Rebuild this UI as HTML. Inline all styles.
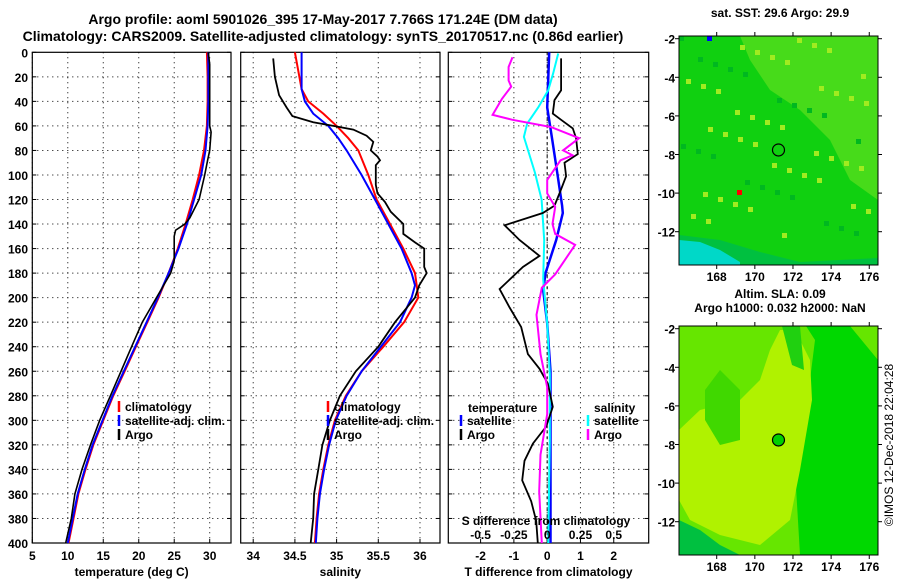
<!DOCTYPE html>
<html><head><meta charset="utf-8">
<style>
body{margin:0;background:#fff;}
svg{display:block;font-family:"Liberation Sans",sans-serif;font-weight:bold;}
</style></head>
<body>
<svg id="chart" width="900" height="580" viewBox="0 0 900 580" xmlns="http://www.w3.org/2000/svg">
<text x="323" y="24" font-size="14" text-anchor="middle">Argo profile: aoml 5901026_395 17-May-2017 7.766S 171.24E (DM data)</text>
<text x="323" y="41" font-size="14" text-anchor="middle">Climatology: CARS2009. Satellite-adjusted climatology: synTS_20170517.nc (0.86d earlier)</text>
<g id="panels"></g>
<g id="maps"></g>
<text transform="translate(893,445) rotate(-90)" font-size="12" font-weight="normal" text-anchor="middle">©IMOS 12-Dec-2018 22:04:28</text>
</svg>
<script>
// ---- data ----
const tDepth = [0,10,20,40,60,65,80,88,100,120,135,140,145,150,160,170,180,190,200,220,240,260,280,300,320,340,360,380,400];
const tArgo  = [29.8,30,30,30,30,30.2,30,29.7,29.3,28.5,27.2,26.5,25.2,25,25,25,24.5,23.5,22.5,20.5,19,17.5,16,14.5,13.2,12,11,10.5,9.7];
const cDepth = [0,20,40,60,80,100,120,140,160,180,200,220,240,260,280,300,320,340,360,380,400];
const tClim  = [29.6,29.7,29.7,29.6,29.2,28.5,27.6,26.6,25.5,24.2,22.8,21.2,19.6,18,16.4,15,13.6,12.5,11.5,10.8,10.1];
const tSat   = [29.8,29.8,29.8,29.7,29.4,28.8,27.8,26.8,25.6,24.2,22.7,21.1,19.5,17.9,16.3,14.9,13.5,12.4,11.4,10.7,10.0];
const sDepth = [5,20,35,45,52,57,60,63,68,73,80,85,88,92,100,108,115,122,130,140,148,155,160,175,180,190,200,210,220,240,260,280,300,320,340,360,380,400];
const sArgo  = [34.24,34.26,34.31,34.4,34.47,34.72,34.96,35.2,35.36,35.44,35.41,35.49,35.52,35.47,35.47,35.47,35.49,35.58,35.65,35.8,35.8,35.94,36.05,36.05,36.08,35.99,35.94,35.82,35.7,35.5,35.23,35.04,34.92,34.83,34.78,34.73,34.72,34.69];
const scDepth = [0,30,40,50,60,70,80,100,120,140,160,180,190,200,220,240,260,280,300,320,340,360,380,400];
const sClim  = [34.5,34.58,34.66,34.84,35.0,35.14,35.26,35.38,35.48,35.64,35.8,35.94,35.96,35.98,35.81,35.56,35.3,35.11,34.98,34.9,34.84,34.79,34.76,34.74];
const sSat   = [34.58,34.58,34.62,34.72,34.9,35.02,35.12,35.3,35.46,35.62,35.78,35.9,35.94,35.9,35.76,35.53,35.3,35.12,34.99,34.91,34.85,34.8,34.77,34.75];
const dtSatDepth = [0,45,71,98,125,131,153,180,194,221,260,400];
const dtSat  = [0.06,0.0,0.15,0.3,0.45,0.47,0.27,-0.05,-0.12,0,0.1,0.1];
const dtArgoDepth = [5,31,39,50,55,62,70,83,90,101,115,125,131,141,153,166,175,193,208,224,246,258,270,289,305,319,333,349,366,382,400];
const dtArgo = [0.42,0.42,0.22,0.17,0.42,0.77,0.87,0.92,0.52,0.57,0.37,0.22,-0.13,-1.28,-0.83,-0.23,-0.73,-1.43,-1.13,-0.78,-0.58,-0.23,0.02,0.17,-0.03,-0.43,-0.68,-0.75,-0.48,-0.33,-0.28];
const dsSatDepth = [1,17,31,45,58,69,98,120,153,185,221,262,316,400];
const dsSat  = [0.083,0.045,0.008,-0.067,-0.15,-0.175,-0.092,-0.042,-0.022,-0.03,0,0.02,0.02,0.008];
const dsArgoDepth = [4,12,23,28,38,51,55,61,70,80,84,88,104,115,126,140,148,157,181,192,214,246,273,295,328,358,400];
const dsArgo = [-0.26,-0.29,-0.29,-0.27,-0.34,-0.41,-0.26,0.03,0.24,0.12,0.19,0.1,0,0,0.06,0.04,0.06,0.21,0.06,-0.04,-0.08,-0.05,0,0,-0.05,-0.06,-0.04];
const depthTicks = [0,20,40,60,80,100,120,140,160,180,200,220,240,260,280,300,320,340,360,380,400];
const tTicks = [5,10,15,20,25,30];
const sTicks = [34,34.5,35,35.5,36];
const dTTicks = [-2,-1,0,1,2];
const dSTicks = [-0.5,-0.25,0,0.25,0.5];
const latTicks = [-2,-4,-6,-8,-10,-12];
const lonTicks = [168,170,172,174,176];

const NS='http://www.w3.org/2000/svg';
function mk(tag,attrs,parent,text){const e=document.createElementNS(NS,tag);for(const k in attrs)e.setAttribute(k,attrs[k]);if(text!==undefined)e.textContent=text;parent.appendChild(e);return e;}
const Y0=52.3,Y1=543;
const yD=d=>Y0+(d-0)*(Y1-Y0)/400;
const panels=document.getElementById('panels');

function panel(name,x0,x1,vmin,vmax,ticks,fmt,xtitle){
  const g=mk('g',{},panels);
  
  
  const xs=v=>x0+(v-vmin)*(x1-x0)/(vmax-vmin);
  depthTicks.forEach(d=>{
    if(d>0&&d<400){const l=mk('line',{x1:x0,x2:x1,y1:yD(d),y2:yD(d),stroke:'#000','stroke-dasharray':'1,4','stroke-width':1},g);
    }
    mk('line',{x1:x0,x2:x0+4,y1:yD(d),y2:yD(d),stroke:'#000'},g);
    mk('line',{x1:x1-4,x2:x1,y1:yD(d),y2:yD(d),stroke:'#000'},g);
  });
  ticks.forEach(v=>{
    const l=mk('line',{x1:xs(v),x2:xs(v),y1:Y0,y2:Y1,stroke:'#000','stroke-dasharray':'1,4'},g);
    
    mk('line',{x1:xs(v),x2:xs(v),y1:Y1-4,y2:Y1,stroke:'#000'},g);
    const t=mk('text',{x:xs(v),y:560,'font-size':12,'text-anchor':'middle'},g,fmt(v));
    
  });
  const r=mk('rect',{x:x0,y:Y0,width:x1-x0,height:Y1-Y0,fill:'none',stroke:'#000','stroke-width':1.2},g);
  
  const tt=mk('text',{x:(x0+x1)/2,y:576,'font-size':12,'text-anchor':'middle'},g,xtitle);
  
  return {g,xs};
}
function line(p,depths,vals,color,w,name){
  const pts=depths.map((d,i)=>p.xs(vals[i]).toFixed(1)+','+yD(d).toFixed(1)).join(' ');
  const l=mk('polyline',{points:pts,fill:'none',stroke:color,'stroke-width':w},p.g);
  
  
}
function legend(g,x,y,color,label){
  mk('line',{x1:x,x2:x,y1:y-10,y2:y+1,stroke:color,'stroke-width':2.5},g);
  const t=mk('text',{x:x+6,y:y,'font-size':12},g,label);
  
  
}
depthTicks.forEach(d=>{
  const t=mk('text',{x:28,y:yD(d)+5,'font-size':12,'text-anchor':'end'},panels,String(d));
  
  
});
const p1=panel('temperature-panel',32.3,231,5,33,tTicks,v=>String(v),'temperature (deg C)');
line(p1,cDepth,tClim,'#f00',2,'temp-climatology-line');
line(p1,cDepth,tSat,'#00f',2,'temp-satellite-line');
line(p1,tDepth,tArgo,'#000',1.6,'temp-argo-line');
legend(p1.g,119,411,'#f00','climatology');
legend(p1.g,119,425,'#00f','satellite-adj. clim.');
legend(p1.g,119,439,'#000','Argo');
const p2=panel('salinity-panel',240.7,440,33.85,36.24,sTicks,v=>String(v),'salinity');
line(p2,scDepth,sClim,'#f00',2,'sal-climatology-line');
line(p2,scDepth,sSat,'#00f',2,'sal-satellite-line');
line(p2,sDepth,sArgo,'#000',1.8,'sal-argo-line');
legend(p2.g,328,411,'#f00','climatology');
legend(p2.g,328,425,'#00f','satellite-adj. clim.');
legend(p2.g,328,439,'#000','Argo');
const p3=panel('difference-panel',448.3,648.7,-2.97,3.05,dTTicks,v=>String(v),'T difference from climatology');
mk('line',{x1:p3.xs(0),x2:p3.xs(0),y1:Y0,y2:Y1,stroke:'#000','stroke-dasharray':'3,3'},p3.g);
const sx=s=>s*4;
line(p3,dtSatDepth,dtSat,'#00f',2.5,'dt-satellite-line');
line(p3,dsSatDepth,dsSat.map(sx),'#0ff',2,'ds-satellite-line');
line(p3,dtArgoDepth,dtArgo,'#000',1.8,'dt-argo-line');
line(p3,dsArgoDepth,dsArgo.map(sx),'#f0f',2,'ds-argo-line');
mk('text',{x:468,y:412,'font-size':12},p3.g,'temperature');
mk('text',{x:594,y:412,'font-size':12},p3.g,'salinity');
legend(p3.g,461,425,'#00f','satellite');
legend(p3.g,461,439,'#000','Argo');
legend(p3.g,588,425,'#0ff','satellite');
legend(p3.g,588,439,'#f0f','Argo');
const st=mk('text',{x:546,y:525,'font-size':12,'text-anchor':'middle'},p3.g,'S difference from climatology');

dSTicks.forEach(s=>{
  const t=mk('text',{x:p3.xs(sx(s)),y:539,'font-size':12,'text-anchor':'middle'},p3.g,String(s));
  
});

const maps=document.getElementById('maps');
function map(name,top,titles,draw){
  const g=mk('g',{},maps);
  
  
  const X0=679,X1=878,T0=top,T1=top+229;
  const lx=l=>716.7+(l-168)*19.07;
  const ly=l=>top+2.7+(-2-l)*19.3;
  titles.forEach((t,i)=>{const e=mk('text',{x:780,y:(titles.length==1?top-19:top-28+i*14),'font-size':12,'text-anchor':'middle'},g,t);
    });
  const cl=mk('clipPath',{id:name+'-clip'},g);mk('rect',{x:X0,y:T0,width:X1-X0,height:T1-T0},cl);
  const inner=mk('g',{'clip-path':'url(#'+name+'-clip)'},g);
  draw(inner,X0,X1,T0,T1);
  mk('rect',{x:X0,y:T0,width:X1-X0,height:T1-T0,fill:'none',stroke:'#000'},g);
  latTicks.forEach(l=>{mk('line',{x1:X0-4,x2:X0,y1:ly(l),y2:ly(l),stroke:'#000'},g);mk('line',{x1:X1,x2:X1+4,y1:ly(l),y2:ly(l),stroke:'#000'},g);
    const t=mk('text',{x:675,y:ly(l)+5,'font-size':12,'text-anchor':'end'},g,String(l));
    });
  lonTicks.forEach(l=>{mk('line',{x1:lx(l),x2:lx(l),y1:T0-4,y2:T0,stroke:'#000'},g);mk('line',{x1:lx(l),x2:lx(l),y1:T1,y2:T1+4,stroke:'#000'},g);
    const t=mk('text',{x:lx(l),y:T1+16,'font-size':12,'text-anchor':'middle'},g,String(l));
    });
  const c=mk('circle',{cx:lx(171.24),cy:ly(-7.766),r:6,fill:name==='sla-map'?'#00d000':'none',stroke:'#000','stroke-width':1.2},g);
  
}
map('sst-map',36,['sat. SST: 29.6 Argo: 29.9'],(g,X0,X1,T0,T1)=>{
  mk('rect',{x:X0,y:T0,width:X1-X0,height:T1-T0,fill:'#10d010'},g);
  mk('polygon',{points:'679,235 720,240 760,252 800,262 878,258 878,270 679,270',fill:'#00c040'},g);
  mk('polygon',{points:'679,240 700,242 720,250 740,262 740,270 679,270',fill:'#00d8c8'},g);
  mk('polygon',{points:'740,36 878,36 878,200 850,180 830,140 800,110 770,90 750,60',fill:'#60e020',opacity:0.7},g);
  for(let i=0;i<60;i++){const x=X0+((i*37)%190),y=T0+((i*53)%200);
    mk('rect',{x:x,y:y,width:5,height:5,fill:i%3?'#a0ec20':'#00b820'},g);}
  mk('rect',{x:707,y:36,width:5,height:5,fill:'#00f'},g);
  mk('rect',{x:737,y:190,width:5,height:5,fill:'#f00'},g);
});
map('sla-map',326,['Altim. SLA: 0.09','Argo h1000: 0.032 h2000: NaN'],(g,X0,X1,T0,T1)=>{
  mk('rect',{x:X0,y:T0,width:X1-X0,height:T1-T0,fill:'#66e600'},g);
  mk('polygon',{points:'806,326 850,326 878,360 878,555 800,555 795,470 790,410 810,380 815,340',fill:'#00d800'},g);
  mk('polygon',{points:'679,430 700,410 740,400 760,380 770,350 780,330 795,330 810,360 812,400 800,470 790,520 760,545 720,535 690,520 679,500',fill:'#b0f200'},g);
  mk('polygon',{points:'705,390 720,370 740,390 740,440 720,445 705,420',fill:'#40d800'},g);
  mk('polygon',{points:'782,326 800,326 804,370 792,365',fill:'#20d010'},g);
  mk('polygon',{points:'679,520 700,530 720,545 740,555 679,555',fill:'#00c040'},g);
});
</script>
</body></html>
